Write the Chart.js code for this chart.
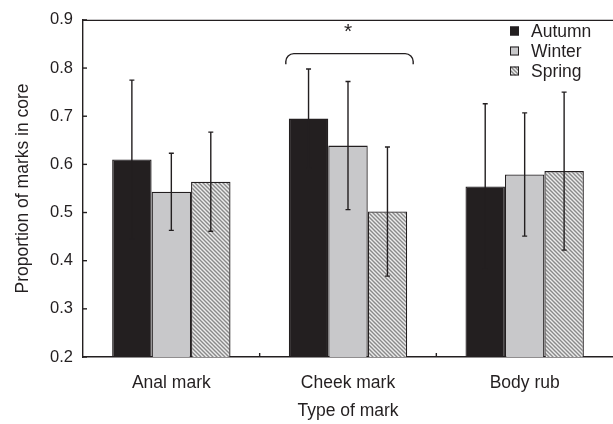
<!DOCTYPE html>
<html>
<head>
<meta charset="utf-8">
<script src="https://cdn.jsdelivr.net/npm/chart.js@4/dist/chart.umd.min.js"></script>
<style>
  html, body { margin: 0; padding: 0; background: #fff; }
  #wrap { width: 613px; height: 424px; }
</style>
</head>
<body>
<div id="wrap"><canvas id="chart" width="613" height="424"></canvas></div>
<script>
// Proportion of marks in core, by mark type and season

const categories = ['Anal mark', 'Cheek mark', 'Body rub'];
const seasons = ['Autumn', 'Winter', 'Spring'];

const autumn = [0.610, 0.695, 0.554];
const winter = [0.543, 0.639, 0.579];
const spring = [0.564, 0.502, 0.586];

// symmetric error half-widths
const autumnErr = [0.165, 0.103, 0.172];
const winterErr = [0.080, 0.133, 0.128];
const springErr = [0.103, 0.134, 0.164];

const yTicks = [0.2, 0.3, 0.4, 0.5, 0.6, 0.7, 0.8, 0.9];

const INK = '#231f20';
const FONT = '"Liberation Sans", Arial, sans-serif';

// --- hatch pattern for Spring ---
function makeHatch() {
  const c = document.createElement('canvas');
  c.width = 4; c.height = 4;
  const g = c.getContext('2d');
  g.fillStyle = '#ececec';
  g.fillRect(0, 0, 4, 4);
  g.strokeStyle = '#8a8a8a';
  g.lineWidth = 1.4;
  g.beginPath();
  g.moveTo(-1, -1); g.lineTo(5, 5);
  g.moveTo(-1, 3); g.lineTo(1, 5);
  g.moveTo(3, -1); g.lineTo(5, 1);
  g.stroke();
  return g.createPattern(c, 'repeat');
}
const hatch = makeHatch();

// --- error bars, bracket, frame, legend ---
const extras = {
  id: 'extras',
  afterDatasetsDraw(chart) {
    const { ctx, chartArea: area, scales: { x, y } } = chart;
    const errs = [autumnErr, winterErr, springErr];

    ctx.save();
    ctx.strokeStyle = INK;
    ctx.lineWidth = 1.4;

    // error bars
    chart.data.datasets.forEach((ds, di) => {
      const meta = chart.getDatasetMeta(di);
      meta.data.forEach((bar, i) => {
        const v = ds.data[i];
        const top = y.getPixelForValue(v + errs[di][i]);
        const bot = y.getPixelForValue(v - errs[di][i]);
        ctx.beginPath();
        ctx.moveTo(bar.x, top); ctx.lineTo(bar.x, bot);
        ctx.moveTo(bar.x - 2.5, top); ctx.lineTo(bar.x + 2.5, top);
        ctx.moveTo(bar.x - 2.5, bot); ctx.lineTo(bar.x + 2.5, bot);
        ctx.stroke();
      });
    });

    // top frame line
    ctx.beginPath();
    ctx.moveTo(area.left, area.top + 0.5);
    ctx.lineTo(area.right, area.top + 0.5);
    ctx.stroke();

    // inward ticks on y axis
    yTicks.forEach(t => {
      const py = y.getPixelForValue(t);
      ctx.beginPath();
      ctx.moveTo(area.left, py); ctx.lineTo(area.left + 4, py);
      ctx.stroke();
    });
    // inward ticks between categories
    for (let i = 0; i < categories.length - 1; i++) {
      const px = (x.getPixelForValue(i) + x.getPixelForValue(i + 1)) / 2;
      ctx.beginPath();
      ctx.moveTo(px, area.bottom); ctx.lineTo(px, area.bottom - 4);
      ctx.stroke();
    }

    // significance bracket over Cheek mark
    const first = chart.getDatasetMeta(0).data[1];
    const last = chart.getDatasetMeta(2).data[1];
    const bx0 = first.x - first.width / 2 - 3;
    const bx1 = last.x + last.width / 2 + 6;
    const byTop = y.getPixelForValue(0.830);
    const byEnd = y.getPixelForValue(0.808);
    const r = 8;
    ctx.beginPath();
    ctx.moveTo(bx0, byEnd);
    ctx.arcTo(bx0, byTop, bx0 + r, byTop, r);
    ctx.lineTo(bx1 - r, byTop);
    ctx.arcTo(bx1, byTop, bx1, byEnd, r);
    ctx.lineTo(bx1, byEnd);
    ctx.stroke();

    ctx.fillStyle = INK;
    ctx.font = '21px ' + FONT;
    ctx.textAlign = 'center';
    ctx.textBaseline = 'alphabetic';
    ctx.fillText('*', x.getPixelForValue(1), y.getPixelForValue(0.862));

    // legend
    ctx.font = '17.5px ' + FONT;
    ctx.textAlign = 'left';
    ctx.textBaseline = 'middle';
    chart.data.datasets.forEach((ds, di) => {
      const cy = 31 + di * 20;
      ctx.fillStyle = ds.backgroundColor;
      ctx.fillRect(510, cy - 4.5, 9, 9);
      ctx.lineWidth = 1;
      ctx.strokeRect(510.5, cy - 4, 8, 8);
      ctx.fillStyle = INK;
      ctx.fillText(ds.label, 531, cy + 1);
    });

    ctx.restore();
  }
};

const fills = [INK, '#c8c8ca', hatch];
const series = [autumn, winter, spring];

new Chart(document.getElementById('chart'), {
  type: 'bar',
  data: {
    labels: categories,
    datasets: seasons.map((s, i) => ({
      label: s,
      data: series[i],
      backgroundColor: fills[i],
      borderColor: INK,
      borderWidth: 1.3,
      categoryPercentage: 0.67,
      barPercentage: 1.0,
    })),
  },
  options: {
    responsive: false,
    animation: false,
    layout: { padding: { top: 15, right: 0, left: 0, bottom: 0 } },
    plugins: {
      legend: { display: false },
      tooltip: { enabled: false },
    },
    scales: {
      x: {
        grid: { display: false, drawTicks: false },
        border: { display: true, color: INK, width: 1.4 },
        ticks: { color: INK, font: { family: FONT, size: 17.5 }, padding: 16 },
        title: {
          display: true, text: 'Type of mark', color: INK,
          font: { family: FONT, size: 17.5 }, padding: { top: 0, bottom: 2 },
        },
        afterFit(s) { s.height = 67; },
      },
      y: {
        min: 0.2,
        max: 0.9,
        grid: { display: false, drawTicks: false },
        border: { display: true, color: INK, width: 1.4 },
        ticks: {
          stepSize: 0.1, color: INK, padding: 10,
          font: { family: FONT, size: 16.5 },
          callback: v => v.toFixed(1),
        },
        title: {
          display: true, text: 'Proportion of marks in core', color: INK,
          font: { family: FONT, size: 17.5 }, padding: { top: 13, bottom: 0 },
        },
        afterFit(s) { s.width = 83; },
      },
    },
  },
  plugins: [extras],
});
</script>
</body>
</html>
